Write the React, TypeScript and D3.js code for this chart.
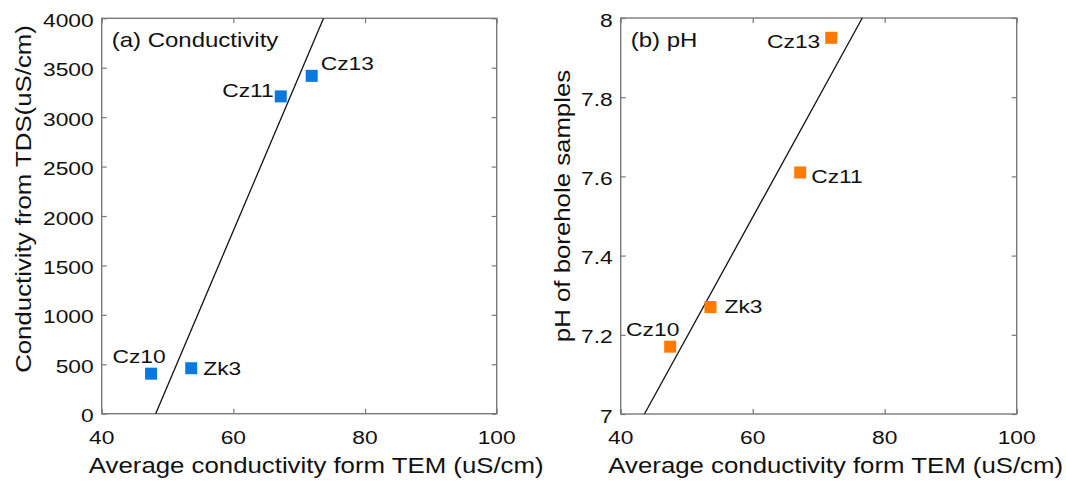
import React, { useEffect, useRef } from "react";
import * as d3 from "d3";

// sample names and measured values
const samples = ["Cz10", "Zk3", "Cz11", "Cz13"];
const temConductivity = [47.5, 53.6, 67.2, 71.9];
const tdsConductivity = [405, 460, 3210, 3418];
const boreholePH = [7.17, 7.27, 7.61, 7.95];

// fitted lines (end points)
const condFitX = [48.2, 73.7];
const condFitY = [0, 4000];
const phFitX = [43.6, 76.6];
const phFitY = [7, 8];

// ticks
const xTicks = [40, 60, 80, 100];
const condTicks = [0, 500, 1000, 1500, 2000, 2500, 3000, 3500, 4000];
const phTicks = [7, 7.2, 7.4, 7.6, 7.8, 8];

const FONT = "'Liberation Sans', Arial, Helvetica, sans-serif";
const STRETCH = 1.2;
const INK = "#111";
const FRAME = "#7a7a7a";

// label placement relative to each marker: [dx, dy, anchor]
const condLabelPos: [number, number, string][] = [
  [-12, -10.5, "middle"],
  [12, 7, "start"],
  [-7, 1, "end"],
  [9, -6, "start"],
];
const phLabelPos: [number, number, string][] = [
  [-17.5, -11, "middle"],
  [14, 5.5, "start"],
  [11, 10.5, "start"],
  [-11, 10.5, "end"],
];

const addText = (
  g: any,
  x: number,
  y: number,
  txt: string,
  size: number,
  anchor = "start",
  rotate = 0
) => {
  g.append("text")
    .attr(
      "transform",
      `translate(${x},${y})${rotate ? ` rotate(${rotate})` : ""} scale(${STRETCH},1)`
    )
    .attr("text-anchor", anchor)
    .style("font-family", FONT)
    .style("font-size", `${size}px`)
    .style("fill", INK)
    .text(txt);
};

const drawPanel = (
  svg: any,
  opts: {
    left: number;
    right: number;
    top: number;
    bottom: number;
    yDomain: [number, number];
    yTicks: number[];
    yVals: number[];
    fitX: number[];
    fitY: number[];
    color: string;
    title: string;
    yLabel: string;
    yLabelX: number;
    yLabelY: number;
    labelPos: [number, number, string][];
  }
) => {
  const x = d3.scaleLinear().domain([40, 100]).range([opts.left, opts.right]);
  const y = d3.scaleLinear().domain(opts.yDomain).range([opts.bottom, opts.top]);
  const g = svg.append("g");

  // inward ticks on all four sides
  const tickStyle = (sel: any) => {
    sel.select(".domain").remove();
    sel.selectAll("line").attr("stroke", FRAME).attr("stroke-width", 1.2);
  };
  g.append("g")
    .attr("transform", `translate(0,${opts.bottom})`)
    .call(d3.axisBottom(x).tickValues(xTicks).tickSize(-5).tickFormat(() => ""))
    .call(tickStyle);
  g.append("g")
    .attr("transform", `translate(0,${opts.top})`)
    .call(d3.axisTop(x).tickValues(xTicks).tickSize(-5).tickFormat(() => ""))
    .call(tickStyle);
  g.append("g")
    .attr("transform", `translate(${opts.left},0)`)
    .call(d3.axisLeft(y).tickValues(opts.yTicks).tickSize(-5).tickFormat(() => ""))
    .call(tickStyle);
  g.append("g")
    .attr("transform", `translate(${opts.right},0)`)
    .call(d3.axisRight(y).tickValues(opts.yTicks).tickSize(-5).tickFormat(() => ""))
    .call(tickStyle);

  g.append("rect")
    .attr("x", opts.left)
    .attr("y", opts.top)
    .attr("width", opts.right - opts.left)
    .attr("height", opts.bottom - opts.top)
    .attr("fill", "none")
    .attr("stroke", FRAME)
    .attr("stroke-width", 1.4);

  // tick labels
  xTicks.forEach((t) => addText(g, x(t), opts.bottom + 30, String(t), 19, "middle"));
  opts.yTicks.forEach((t) => addText(g, opts.left - 8, y(t) + 8.5, String(t), 19, "end"));

  // fit line
  const line = d3
    .line<number>()
    .x((_, i) => x(opts.fitX[i]))
    .y((d) => y(d));
  g.append("path")
    .attr("d", line(opts.fitY))
    .attr("fill", "none")
    .attr("stroke", "#111")
    .attr("stroke-width", 1.3);

  // markers
  const s = 12;
  samples.forEach((name, i) => {
    const cx = x(temConductivity[i]);
    const cy = y(opts.yVals[i]);
    g.append("rect")
      .attr("x", cx - s / 2)
      .attr("y", cy - s / 2)
      .attr("width", s)
      .attr("height", s)
      .attr("fill", opts.color);
    const [dx, dy, anchor] = opts.labelPos[i];
    addText(g, cx + dx, cy + dy, name, 19, anchor);
  });

  // panel title and axis labels
  addText(g, opts.left + 10, opts.top + 29, opts.title, 20);
  addText(
    g,
    (opts.left + opts.right) / 2 + 17,
    473,
    "Average conductivity form TEM (uS/cm)",
    21.5,
    "middle"
  );
  addText(g, opts.yLabelX, opts.yLabelY, opts.yLabel, 21.5, "middle", -90);
};

export default function App() {
  const ref = useRef<SVGSVGElement>(null);

  useEffect(() => {
    const svg = d3.select(ref.current);
    svg.selectAll("*").remove();

    drawPanel(svg, {
      left: 101.7,
      right: 496.7,
      top: 18.3,
      bottom: 413.7,
      yDomain: [0, 4000],
      yTicks: condTicks,
      yVals: tdsConductivity,
      fitX: condFitX,
      fitY: condFitY,
      color: "#0a78dc",
      title: "(a) Conductivity",
      yLabel: "Conductivity from TDS(uS/cm)",
      yLabelX: 31,
      yLabelY: 199,
      labelPos: condLabelPos,
    });

    drawPanel(svg, {
      left: 620.7,
      right: 1016.7,
      top: 18,
      bottom: 414,
      yDomain: [7, 8],
      yTicks: phTicks,
      yVals: boreholePH,
      fitX: phFitX,
      fitY: phFitY,
      color: "#ff7a00",
      title: "(b) pH",
      yLabel: "pH of borehole samples",
      yLabelX: 570,
      yLabelY: 206,
      labelPos: phLabelPos,
    });
  }, []);

  return (
    <svg
      ref={ref}
      width={1066}
      height={481}
      style={{ position: "absolute", left: 0, top: 0, background: "#fff" }}
    />
  );
}
